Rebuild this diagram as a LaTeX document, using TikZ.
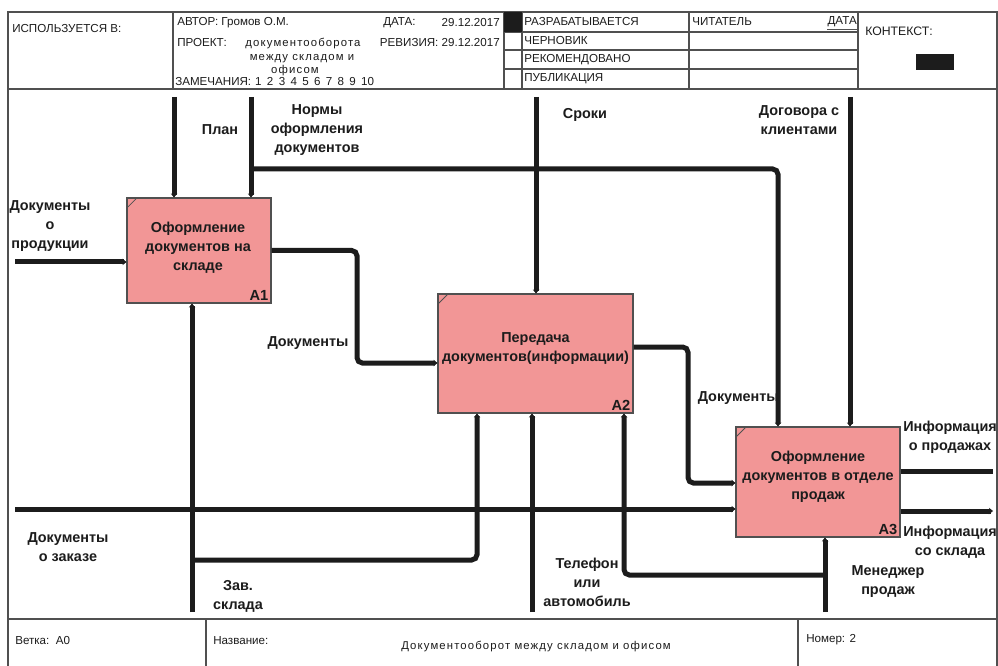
\documentclass[tikz,border=0pt]{standalone}
\usepackage{fontspec}
\setmainfont{Liberation Sans}
\newfontfamily\spacedfont[LetterSpace=10]{Liberation Sans}
\usetikzlibrary{calc,arrows.meta}
\definecolor{boxfill}{RGB}{242,150,150}
\definecolor{ink}{RGB}{28,28,28}
\definecolor{framec}{RGB}{80,80,80}
\begin{document}
\begin{tikzpicture}[x=0.75pt,y=-0.75pt,
  frame/.style={draw=framec, line width=0.9pt},
  flow/.style={draw=ink, line width=3.75pt, rounded corners=4pt},
  arr/.style={flow, -{Stealth[length=3pt,width=4.8pt]}},
  actbox/.style={draw=framec, line width=0.8pt, fill=boxfill, rectangle, inner sep=0},
  boxtxt/.style={font=\fontsize{10.8}{14.2}\selectfont\bfseries, align=center, text=ink, inner sep=0},
  boxnum/.style={font=\fontsize{11}{12}\selectfont\bfseries, text=ink, inner sep=0, anchor=south east},
  lbl/.style={font=\fontsize{10.8}{14.2}\selectfont\bfseries, align=center, text=ink, inner sep=0},
  hdr/.style={font=\fontsize{8.7}{10}\selectfont, anchor=west, inner sep=0, text=ink},
  hdrs/.style={font=\spacedfont\fontsize{8.5}{10}\selectfont, anchor=west, inner sep=0, text=ink},
  cornermark/.style={draw=framec, line width=0.6pt},
]
\useasboundingbox (0,0) rectangle (998,666);
\fill[white] (0,0) rectangle (998,666);

% ---------- frame ----------
\draw[frame] (8,666) -- (8,12) -- (997,12) -- (997,666);
\draw[frame] (8,89) -- (997,89);
\draw[frame] (8,619) -- (997,619);
\draw[frame] (173,12) -- (173,89);
\draw[frame] (504,12) -- (504,89);
\draw[frame] (522,12) -- (522,89);
\draw[frame] (689,12) -- (689,89);
\draw[frame] (858,12) -- (858,89);
\draw[frame] (504,32) -- (858,32);
\draw[frame] (504,50) -- (858,50);
\draw[frame] (504,69) -- (858,69);
\draw[frame] (206,619) -- (206,666);
\draw[frame] (798,619) -- (798,666);
\fill[ink] (504,12) rectangle (522,32);
\fill[ink] (916,54) rectangle (954,70);

% ---------- header texts ----------
\node[hdr] (usedin) at (12,29) {ИСПОЛЬЗУЕТСЯ В:};
\node[hdr] (author) at (177,23) {АВТОР: Громов О.М.};
\node[hdr] (datel) at (383,23) {ДАТА:};
\node[hdr, anchor=east] (datev) at (500,23) {29.12.2017};
\node[hdr] (proj) at (177,43) {ПРОЕКТ:};
\node[hdrs, anchor=center] (projn1) at (303,44) {документооборота};
\node[hdrs, anchor=center] (projn2) at (302,59) {между складом и};
\node[hdr, anchor=east] (rev) at (500,43) {РЕВИЗИЯ: 29.12.2017};
\node[hdr] (notes) at (175,81.5) {ЗАМЕЧАНИЯ:\hspace{3pt}1\hspace{4pt}2\hspace{4pt}3\hspace{4pt}4\hspace{4pt}5\hspace{4pt}6\hspace{4pt}7\hspace{4pt}8\hspace{4pt}9\hspace{4pt}10};
\node[hdrs, anchor=center] (projn3) at (295,71) {офисом};
\node[hdr] (st1) at (524,22) {РАЗРАБАТЫВАЕТСЯ};
\node[hdr] (st2) at (524,41) {ЧЕРНОВИК};
\node[hdr] (st3) at (524,60) {РЕКОМЕНДОВАНО};
\node[hdr] (st4) at (524,79) {ПУБЛИКАЦИЯ};
\node[hdr] (reader) at (692,22) {ЧИТАТЕЛЬ};
\node[hdr, anchor=east] (rdate) at (857,22) {ДАТА};
\draw[frame] (rdate.south west) ++(0,2) -- ++(31,0);
\node[hdr, font=\fontsize{9.2}{10}\selectfont] (ctx) at (865,31) {КОНТЕКСТ:};

% ---------- footer texts ----------
\node[hdr] (branch) at (15,641) {Ветка:\ \ A0};
\node[hdr] (namel) at (213,641) {Название:};
\node[hdrs, anchor=center] (namev) at (536,647) {Документооборот между складом и офисом};
\node[hdr] (num) at (806,640) {Номер: 2};

% ---------- activity boxes ----------
\node[actbox, minimum width=108pt, minimum height=78.75pt] (a1) at (199,250.5) {};
\node[actbox, minimum width=146.25pt, minimum height=89.25pt] (a2) at (535.5,353.5) {};
\node[actbox, minimum width=123pt, minimum height=82.5pt] (a3) at (818,482) {};
\foreach \b in {a1,a2,a3}{
  \draw[cornermark] ($(\b.north west)+(0,11)$) -- ($(\b.north west)+(11,0)$);
}
\node[boxtxt] (a1t) at ($(a1.center)+(-1,-3)$) {Оформление\\документов на\\складе};
\node[boxtxt] (a2t) at ($(a2.center)+(0,-5)$) {Передача\\документов(информации)};
\node[boxtxt] (a3t) at ($(a3.center)+(0,-5)$) {Оформление\\документов в отделе\\продаж};
\node[boxnum] (a1n) at ($(a1.south east)+(-3,-3)$) {A1};
\node[boxnum] (a2n) at ($(a2.south east)+(-3,-3)$) {A2};
\node[boxnum] (a3n) at ($(a3.south east)+(-3,-3)$) {A3};

% ---------- connectors ----------
\coordinate (planTop) at (174,97);
\draw[arr] (planTop) -- (planTop |- a1.north);
\coordinate (normTop) at (251,97);
\draw[arr] (normTop) -- (normTop |- a1.north);
\coordinate (normJ) at (251,169);
\coordinate (normC) at (778,169);
\draw[arr] (normJ) -- (normC) -- (normC |- a3.north);
\coordinate (srokTop) at (536,97);
\draw[arr] (srokTop) -- (srokTop |- a2.north);
\coordinate (dogTop) at (850,97);
\draw[arr] (dogTop) -- (dogTop |- a3.north);
\coordinate (inProd) at (15,262);
\draw[arr] (inProd) -- (inProd -| a1.west);
\coordinate (c12a) at (357,250.5);
\coordinate (c12b) at (357,363);
\draw[arr] (a1.east) -- (c12a) -- (c12b) -- (c12b -| a2.west);
\coordinate (c23a) at (688,347);
\coordinate (c23b) at (688,483);
\draw[arr] (c23a -| a2.east) -- (c23a) -- (c23b) -- (c23b -| a3.west);
\coordinate (inZak) at (15,509);
\draw[arr] (inZak) -- (inZak -| a3.west);
\coordinate (out1) at (993,471);
\draw[flow] (out1 -| a3.east) -- (out1);
\coordinate (out2) at (993,511);
\draw[arr] (out2 -| a3.east) -- (out2);
\coordinate (zavBot) at (192,612);
\draw[arr] (zavBot) -- (zavBot |- a1.south);
\coordinate (zavJ) at (192,560);
\coordinate (zavC) at (477,560);
\draw[arr] (zavJ) -- (zavC) -- (zavC |- a2.south);
\coordinate (telBot) at (532,612);
\draw[arr] (telBot) -- (telBot |- a2.south);
\coordinate (menBot) at (825,612);
\draw[arr] (menBot) -- (menBot |- a3.south);
\coordinate (menJ) at (825,575);
\coordinate (menC) at (624,575);
\draw[arr] (menJ) -- (menC) -- (menC |- a2.south);

% ---------- labels ----------
\node[lbl] (lplan) at (220,130) {План};
\node[lbl] (lnorm) at (317,130) {Нормы\\оформления\\документов};
\node[lbl] (lprod) at (50,226) {Документы\\о\\продукции};
\node[lbl] (lsrok) at (585,115) {Сроки};
\node[lbl] (ldog) at (799,120) {Договора с\\клиентами};
\node[lbl] (ldoc1) at (308,343) {Документы};
\node[lbl, anchor=east] (ldoc2) at (779,398) {Документы};
\node[lbl] (linfo1) at (950,437.5) {Информация\\о продажах};
\node[lbl] (linfo2) at (950,542.5) {Информация\\со склада};
\node[lbl] (lzak) at (68,547) {Документы\\о заказе};
\node[lbl] (lzav) at (238,596) {Зав.\\склада};
\node[lbl] (ltel) at (587,582) {Телефон\\или\\автомобиль};
\node[lbl] (lmen) at (888,581.5) {Менеджер\\продаж};
\end{tikzpicture}
\end{document}
